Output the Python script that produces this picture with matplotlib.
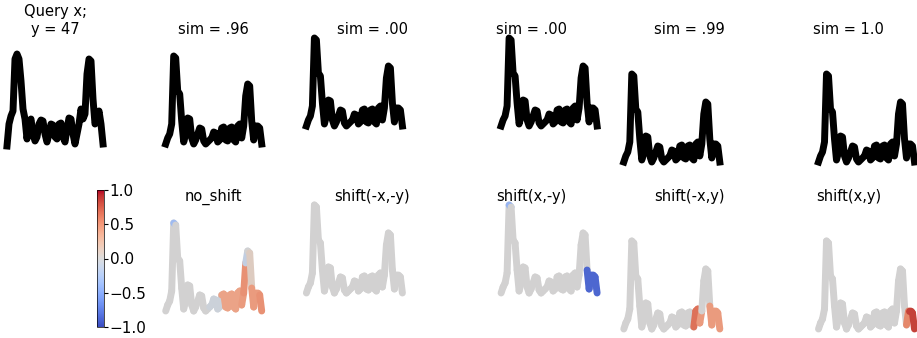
import numpy as np
import matplotlib
matplotlib.use("Agg")
from matplotlib import pyplot as plt
from matplotlib.collections import LineCollection
from matplotlib.colors import Normalize
from matplotlib.cm import ScalarMappable

# query series and the matching series (heights above baseline)
query_y = [0, 22, 30, 35, 87, 92, 87, 65, 37, 27, 7, 22, 27, 12, 5, 9, 22, 26, 25,
           12, 4, 12, 22, 21, 9, 7, 22, 23, 9, 4, 17, 28, 27, 12, 2, 12, 22, 37,
           27, 32, 72, 87, 85, 47, 22, 27, 35, 22, 2]
match_y = [2, 8, 12, 22, 90, 88, 55, 52, 25, 4, 12, 28, 27, 8, 2, 6, 12, 18, 17,
           5, 2, 4, 6, 8, 14, 13, 4, 6, 18, 19, 6, 5, 18, 19, 6, 4, 20, 22, 8,
           20, 50, 62, 60, 25, 6, 20, 20, 18, 2]

top_titles = ["Query x;\ny = 47", "sim = .96", "sim = .00", "sim = .00", "sim = .99", "sim = 1.0"]
bottom_titles = ["no_shift", "shift(-x,-y)", "shift(x,-y)", "shift(-x,y)", "shift(x,y)"]
shift_x = [0, -9, 9, -9, 9]
shift_y = [0, 18, 18, -18, -18]

# attribution value for each segment (between sample i and i+1)
attr_no_shift = [0, 0, 0, 0, -0.35, 0, 0, 0, 0, 0, 0, 0, 0, 0, 0, 0,
                 0, 0, 0, 0, 0, 0, -0.05, -0.05, -0.05, -0.05, -0.05, -0.05, 0.4, 0.4, 0.4, 0.4,
                 0.4, 0.4, 0.4, 0.4, 0.4, 0.4, 0.45, 0.5, -0.12, 0, 0.1, 0.45, 0.45, 0.45, 0.45, 0.5]
attr_mxmy = [0, 0, 0, 0, 0, 0, 0, 0, 0, 0, 0, 0, 0, 0, 0, 0,
             0, 0, 0, 0, 0, 0, 0, 0, 0, 0, 0, 0, 0, 0, 0, 0,
             0, 0, 0, 0, 0, 0, 0, 0, 0, 0, 0, 0, 0, 0, 0, 0]
attr_pxmy = [0, 0, 0, 0, -0.4, 0, 0, 0, 0, 0, 0, 0, 0, 0, 0, 0,
             0, 0, 0, 0, 0, 0, 0, 0, 0, 0, 0, 0, 0, 0, 0, 0,
             0, 0, 0, 0, 0, 0, 0, 0, 0, 0, 0, -0.85, -0.85, -0.85, -0.85, -0.85]
attr_mxpy = [0, 0, 0, 0, 0, 0, 0, 0, 0, 0, 0, 0, 0, 0, 0, 0,
             0, 0, 0, 0, 0, 0, 0, 0, 0, 0, 0, 0, 0, 0, 0, 0,
             0, 0, 0, 0.65, 0.65, 0.65, 0.45, 0, 0, 0, 0, 0.45, 0.45, 0.45, 0.45, 0.45]
attr_pxpy = [0, 0, 0, 0, 0, 0, 0, 0, 0, 0, 0, 0, 0, 0, 0, 0,
             0, 0, 0, 0, 0, 0, 0, 0, 0, 0, 0, 0, 0, 0, 0, 0,
             0, 0, 0, 0, 0, 0, 0, 0, 0, 0, 0, 0, 0.55, 0.85, 0.85, 0.85]
attributions = [attr_no_shift, attr_mxmy, attr_pxmy, attr_mxpy, attr_pxpy]

W, H = 917, 338
fig = plt.figure(figsize=(W / 100, H / 100), dpi=100)
cmap = plt.get_cmap("coolwarm")
norm = Normalize(-1, 1)

def make_ax(left_px, top_px):
    ax = fig.add_axes([left_px / W, (H - top_px - 144) / H, 132 / W, 144 / H])
    ax.set_xlim(-9, 57)
    ax.set_ylim(-40, 104)
    ax.axis("off")
    return ax

pitch = 158.7
for c in range(6):
    ax = make_ax(-11 + pitch * c, 42)
    if c == 0:
        ax.plot(np.arange(len(query_y)), query_y, color="black", lw=5, clip_on=False)
    else:
        dx, dy = shift_x[c - 1], shift_y[c - 1]
        ax.plot(np.arange(len(match_y)) + dx, np.array(match_y) + dy, color="black",
                lw=5, clip_on=False)
    ax.set_title(top_titles[c], fontsize=10.5)

for c in range(1, 6):
    ax = make_ax(-11 + pitch * c, 209)
    dx, dy = shift_x[c - 1], shift_y[c - 1]
    x = np.arange(len(match_y)) + dx
    y = np.array(match_y) + dy
    pts = np.column_stack([x, y]).reshape(-1, 1, 2)
    segs = np.concatenate([pts[:-1], pts[1:]], axis=1)
    # slightly muted coolwarm colours, as in the original render
    cols = cmap(norm(np.array(attributions[c - 1])))
    cols[:, :3] *= 0.95
    lc = LineCollection(segs, colors=cols, linewidths=5, capstyle="round",
                        joinstyle="round", clip_on=False)
    ax.add_collection(lc)
    ax.set_title(bottom_titles[c - 1], fontsize=10.5)

cax = fig.add_axes([97 / W, (H - 327) / H, 7 / W, 137 / H])
cb = fig.colorbar(ScalarMappable(norm=norm, cmap=cmap), cax=cax, ticks=[-1, -0.5, 0, 0.5, 1])
cb.ax.tick_params(labelsize=11, length=3, pad=1)
cb.outline.set_linewidth(0.5)

fig.savefig("out.png", dpi=100)
